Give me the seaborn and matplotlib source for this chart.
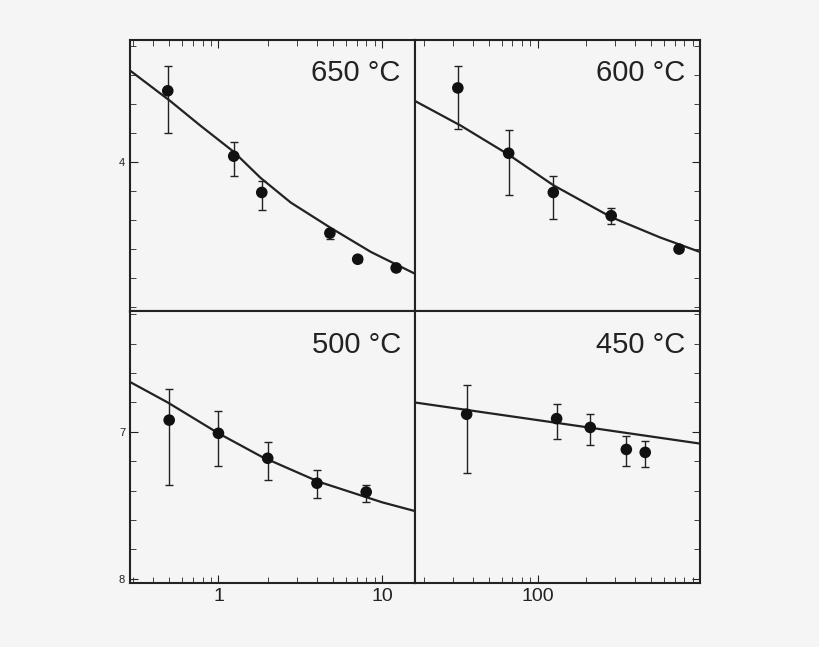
import matplotlib
matplotlib.use("Agg")
import matplotlib.pyplot as plt
import matplotlib.ticker as mticker
import seaborn as sns

sns.set_style("ticks")
plt.rcParams['font.family'] = ['Liberation Sans', 'DejaVu Sans']

bg = "#f5f5f5"

# 650 °C
x650 = [0.49, 1.24, 1.84, 4.8, 7.1, 12.2]
y650 = [3.51, 3.96, 4.21, 4.49, 4.67, 4.73]
lo650 = [3.34, 3.86, 4.13, 4.46, 4.65, 4.71]
hi650 = [3.80, 4.10, 4.33, 4.53, 4.69, 4.75]
fx650 = [0.288, 0.507, 0.776, 1.24, 1.81, 2.77, 4.79, 8.55, 15.9]
fy650 = [3.37, 3.58, 3.75, 3.93, 4.11, 4.28, 4.45, 4.62, 4.77]

# 600 °C
x600 = [32.3, 66.4, 125, 284, 743]
y600 = [3.49, 3.94, 4.21, 4.37, 4.60]
lo600 = [3.34, 3.78, 4.10, 4.32, 4.59]
hi600 = [3.77, 4.23, 4.39, 4.43, 4.61]
fx600 = [17.6, 33.7, 66.4, 125, 284, 568, 1000]
fy600 = [3.58, 3.75, 3.95, 4.16, 4.38, 4.52, 4.62]

# 500 °C
x500 = [0.5, 1.0, 2.0, 4.0, 8.0]
y500 = [6.92, 7.01, 7.18, 7.35, 7.41]
lo500 = [6.71, 6.86, 7.07, 7.26, 7.36]
hi500 = [7.36, 7.23, 7.33, 7.45, 7.48]
fx500 = [0.288, 0.49, 1.0, 1.84, 4.1, 10, 15.9]
fy500 = [6.66, 6.80, 7.01, 7.17, 7.34, 7.48, 7.54]

# 450 °C
x450 = [36.6, 131, 211, 352, 460]
y450 = [6.88, 6.91, 6.97, 7.12, 7.14]
lo450 = [6.68, 6.81, 6.88, 7.03, 7.06]
hi450 = [7.28, 7.05, 7.09, 7.23, 7.24]
fx450 = [17.6, 100, 1000]
fy450 = [6.80, 6.92, 7.08]

panels = [
    ("650 °C", x650, y650, lo650, hi650, fx650, fy650),
    ("600 °C", x600, y600, lo600, hi600, fx600, fy600),
    ("500 °C", x500, y500, lo500, hi500, fx500, fy500),
    ("450 °C", x450, y450, lo450, hi450, fx450, fy450),
]

fig, axes = plt.subplots(2, 2, figsize=(8.2, 6.47), dpi=100)
fig.patch.set_facecolor(bg)
fig.subplots_adjust(left=130/820, right=700/820, top=1-40/647, bottom=1-583/647,
                    wspace=0, hspace=0)

for i, (ax, (lab, x, y, lo, hi, fx, fy)) in enumerate(zip(axes.flat, panels)):
    ax.set_facecolor(bg)
    ax.set_xscale("log")
    sns.lineplot(x=fx, y=fy, ax=ax, color="#222222", linewidth=1.6, sort=False)
    ax.errorbar(x, y, yerr=[[a - b for a, b in zip(y, lo)], [b - a for a, b in zip(y, hi)]],
                fmt="none", ecolor="#222222", elinewidth=1, capsize=3)
    sns.scatterplot(x=x, y=y, ax=ax, color="#111111", s=70, edgecolor="none", zorder=3)
    ax.text(0.95, 0.93, lab, transform=ax.transAxes, ha="right", va="top",
            fontsize=21, color="#222222")
    row, col = divmod(i, 2)
    if col == 0:
        ax.set_xlim(0.288, 15.9)
        ax.set_xticks([1, 10])
    else:
        ax.set_xlim(17.6, 1000)
        ax.set_xticks([100])
    if row == 0:
        ax.set_ylim(5.03, 3.16)
        ax.set_yticks([4])
    else:
        ax.set_ylim(8.03, 6.18)
        ax.set_yticks([7, 8])
    ax.yaxis.set_minor_locator(mticker.MultipleLocator(0.2))
    ax.xaxis.set_major_formatter(mticker.FuncFormatter(lambda v, p: f"{v:g}"))
    ax.xaxis.set_minor_formatter(mticker.NullFormatter())
    ax.tick_params(which="both", direction="in", colors="#222222")
    ax.tick_params(axis="y", labelsize=8, length=6)
    ax.tick_params(axis="y", which="minor", length=4)
    ax.tick_params(axis="x", labelsize=14, length=6)
    ax.tick_params(axis="x", which="minor", length=4)
    if row == 0:
        ax.xaxis.tick_top()
        ax.tick_params(axis="x", labeltop=False)
    if col == 1:
        ax.yaxis.tick_right()
        ax.tick_params(axis="y", labelright=False)
    for s in ax.spines.values():
        s.set_linewidth(1.5)
        s.set_color("#222222")

fig.savefig("out.png", dpi=100, facecolor=bg)
